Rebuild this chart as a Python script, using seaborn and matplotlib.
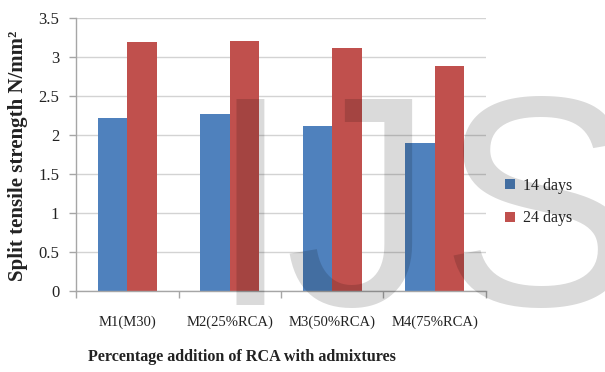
import numpy as np
import pandas as pd
import seaborn as sns
import matplotlib.pyplot as plt
from matplotlib.ticker import FixedLocator
from matplotlib.textpath import TextPath
from matplotlib.font_manager import FontProperties

# Split tensile strength of concrete mixes with recycled coarse aggregate
categories = ["M1(M30)", "M2(25%RCA)", "M3(50%RCA)", "M4(75%RCA)"]
series = ["14 days", "24 days"]
strength_14 = [2.22, 2.27, 2.11, 1.90]
strength_24 = [3.19, 3.21, 3.11, 2.88]
ytick_values = [0, 0.5, 1, 1.5, 2, 2.5, 3, 3.5]
ytick_labels = ["0", "0.5", "1", "1.5", "2", "2.5", "3", "3.5"]

df = pd.DataFrame({
    "mix": categories * 2,
    "age": [series[0]] * len(categories) + [series[1]] * len(categories),
    "strength": strength_14 + strength_24,
})

sns.set_style("white")
plt.rcParams["font.family"] = ["Liberation Serif", "DejaVu Serif"]

W, H = 605, 372
DPI = 100
fig = plt.figure(figsize=(W / DPI, H / DPI), dpi=DPI)
ax = fig.add_axes([76 / W, 1 - 291 / H, (486 - 76) / W, (291 - 18) / H])

sns.barplot(data=df, x="mix", y="strength", hue="age",
            palette=["#4F81BD", "#C0504D"], width=0.58, gap=0,
            saturation=1, errorbar=None, linewidth=0, ax=ax, zorder=2)

handles, labels = ax.get_legend_handles_labels()
ax.get_legend().remove()

ax.set_xlim(-0.5, len(categories) - 0.5)
ax.set_ylim(0, 3.5)
ax.set_yticks(ytick_values)
ax.set_yticklabels(ytick_labels)
ax.yaxis.grid(True, color="#d3d3d3", lw=1, zorder=0)
ax.set_axisbelow(True)
ax.set_xlabel("")
ax.set_ylabel("")

for side in ("top", "right"):
    ax.spines[side].set_visible(False)
for side in ("left", "bottom"):
    ax.spines[side].set_color("#a6a6a6")
    ax.spines[side].set_linewidth(1)

ax.xaxis.set_minor_locator(FixedLocator(np.arange(-0.5, len(categories), 1.0)))
ax.tick_params(axis="x", which="major", length=0, pad=18, labelsize=10.5, labelcolor="#222222")
ax.tick_params(axis="x", which="minor", bottom=True, length=5, width=1, color="#a6a6a6")
ax.tick_params(axis="y", which="major", left=True, length=5, width=1, color="#a6a6a6",
               pad=7, labelsize=12, labelcolor="#222222")

fig.text(18 / W, 1 - 156 / H, "Split tensile strength N/mm²", rotation=90,
         ha="center", va="center", fontsize=15, fontweight="bold", color="#222222")
fig.text(242 / W, 1 - 357 / H, "Percentage addition of RCA with admixtures",
         ha="center", va="center", fontsize=11.6, fontweight="bold", color="#222222")

fig.legend(handles, labels, loc="center left", bbox_to_anchor=(497 / W, 1 - 202 / H),
           frameon=False, fontsize=11.5, handlelength=0.6, handleheight=0.6,
           handletextpad=0.55, labelspacing=1.05, borderpad=0, labelcolor="#222222")

# Journal watermark "IJS" drawn over the plot, one letter at a time.
# Each letter is positioned by its ink edge (pixels from the left of the figure).
wm_font = FontProperties(family="Liberation Sans")
wm_size = 215
wm_px = wm_size * DPI / 72
baseline_px = 305
for letter, edge, side in (("I", 236, "left"), ("J", 412, "right"), ("S", 453, "left")):
    ext = TextPath((0, 0), letter, size=wm_px, prop=wm_font).get_extents()
    x0 = edge - ext.x0 if side == "left" else edge - ext.x1
    fig.text(x0 / W, 1 - baseline_px / H, letter, fontproperties=wm_font, fontsize=wm_size,
             color="black", alpha=0.145, ha="left", va="baseline", zorder=10)

fig.savefig("out.png", dpi=DPI)
